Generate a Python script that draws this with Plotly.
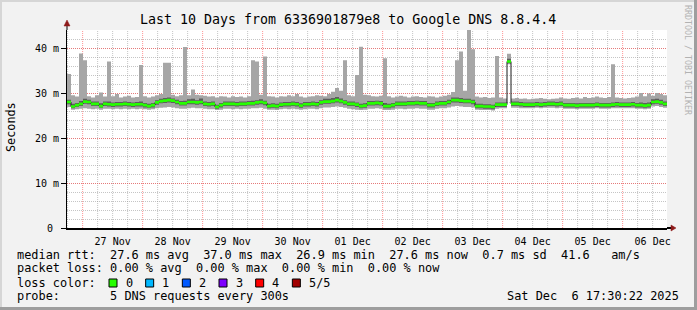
import plotly.graph_objects as go
from datetime import datetime, timedelta

# ---------------- data ----------------
START = datetime(2025, 11, 26, 17, 45)
STEP_MIN = 96  # one consolidated sample every 96 minutes -> 150 samples over 10 days

median_ms = [
    28.0, 27.0, 27.3, 27.6, 28.1, 28.0, 27.6, 27.6, 27.1, 27.6,
    27.5, 27.4, 27.5, 27.5, 27.6, 27.5, 27.4, 27.5, 27.5, 27.3,
    27.1, 27.3, 27.9, 28.2, 28.3, 28.4, 28.3, 28.0, 27.7, 27.7,
    28.0, 28.0, 27.9, 28.0, 27.6, 27.5, 27.6, 26.9, 27.3, 27.6,
    27.6, 27.6, 27.5, 27.6, 27.6, 27.7, 27.7, 27.9, 28.0, 27.8,
    27.1, 27.2, 27.1, 27.4, 27.5, 27.5, 27.6, 27.5, 27.2, 27.5,
    27.5, 27.6, 27.5, 27.9, 28.1, 28.1, 28.2, 28.4, 28.2, 27.9,
    27.6, 27.6, 27.4, 27.1, 27.2, 27.7, 27.7, 27.8, 27.7, 27.1,
    27.1, 27.3, 27.6, 27.6, 27.6, 27.7, 27.7, 27.8, 27.7, 27.7,
    27.3, 27.3, 27.6, 27.7, 27.7, 28.0, 28.4, 28.4, 28.3, 28.2,
    28.2, 28.0, 27.1, 27.1, 27.0, 27.0, 26.9, 27.4, 27.4, 27.4,
    37.0, 27.6, 27.6, 27.5, 27.4, 27.4, 27.4, 27.5, 27.4, 27.5,
    27.6, 27.6, 27.5, 27.6, 27.3, 27.3, 27.3, 27.2, 27.3, 27.3,
    27.3, 27.3, 27.4, 27.3, 27.3, 27.3, 27.4, 27.5, 27.4, 27.4,
    27.4, 27.5, 27.3, 27.3, 27.2, 27.3, 28.0, 28.1, 27.9, 27.6,
]

smoke_hi_ms = [
    34.2, 29.5, 29.2, 38.8, 37.3, 29.3, 29.0, 29.5, 30.1, 29.2,
    37.0, 29.3, 29.8, 29.0, 29.2, 29.4, 29.0, 29.1, 36.2, 29.3,
    29.0, 29.2, 29.5, 29.8, 36.7, 36.7, 29.6, 29.3, 29.5, 40.2,
    29.5, 30.8, 29.6, 29.5, 29.4, 29.2, 29.3, 29.0, 29.3, 29.2,
    29.0, 29.3, 29.1, 29.2, 29.0, 29.3, 37.3, 37.0, 29.6, 38.1,
    29.3, 29.2, 29.0, 29.3, 29.2, 29.5, 29.3, 29.8, 29.2, 29.0,
    29.2, 29.3, 29.5, 29.4, 29.3, 29.8, 30.3, 31.1, 30.5, 37.3,
    29.5, 29.3, 34.0, 40.3, 29.6, 29.5, 29.3, 29.2, 29.4, 37.7,
    29.3, 29.0, 29.2, 29.4, 29.2, 29.0, 29.2, 29.3, 29.1, 29.0,
    29.3, 29.2, 29.0, 29.2, 29.4, 29.6, 30.2, 37.3, 39.2, 30.5,
    44.4, 39.7, 29.2, 29.0, 29.1, 28.9, 29.0, 38.2, 29.0, 28.8,
    38.7, 28.8, 28.9, 28.7, 28.8, 28.6, 28.7, 28.8, 28.9, 28.7,
    28.6, 28.7, 28.8, 29.0, 28.8, 28.7, 28.9, 29.0, 28.8, 29.1,
    28.9, 29.0, 29.2, 29.0, 28.9, 29.1, 36.4, 29.0, 28.9, 28.8,
    28.9, 29.0, 29.2, 30.0, 29.3, 29.9, 29.4, 30.0, 29.8, 29.5,
]

smoke_lo_ms = [
    26.9, 26.3, 26.4, 26.5, 26.6, 26.5, 26.4, 26.5, 26.3, 26.5,
    26.5, 26.4, 26.5, 26.4, 26.5, 26.4, 26.5, 26.4, 26.5, 26.4,
    26.3, 26.4, 26.6, 26.7, 26.8, 26.9, 26.8, 26.6, 26.5, 26.5,
    26.6, 26.7, 26.6, 26.6, 26.5, 26.4, 26.4, 26.2, 26.3, 26.5,
    26.5, 26.4, 26.5, 26.4, 26.5, 26.5, 26.6, 26.6, 26.7, 26.5,
    26.3, 26.3, 26.2, 26.4, 26.5, 26.4, 26.5, 26.4, 26.3, 26.4,
    26.5, 26.5, 26.4, 26.6, 26.8, 26.8, 26.9, 27.0, 26.9, 26.7,
    26.5, 26.4, 26.3, 26.2, 26.3, 26.5, 26.5, 26.6, 26.5, 26.2,
    26.2, 26.3, 26.5, 26.5, 26.4, 26.5, 26.5, 26.6, 26.5, 26.5,
    26.3, 26.3, 26.5, 26.6, 26.6, 26.8, 27.0, 27.1, 27.0, 26.9,
    26.9, 26.8, 26.3, 26.2, 26.2, 26.2, 26.1, 26.5, 26.6, 26.6,
    36.4, 26.7, 26.7, 26.6, 26.6, 26.6, 26.6, 26.7, 26.6, 26.7,
    26.7, 26.7, 26.6, 26.7, 26.5, 26.5, 26.5, 26.4, 26.5, 26.5,
    26.5, 26.5, 26.6, 26.5, 26.5, 26.5, 26.6, 26.6, 26.6, 26.6,
    26.6, 26.6, 26.5, 26.5, 26.4, 26.5, 27.0, 27.1, 26.9, 26.7,
]

inner_hi_ms = [
    28.5, 27.6, 27.8, 28.2, 28.7, 28.5, 28.1, 28.1, 27.7, 28.1,
    28.1, 27.9, 28.0, 28.0, 28.1, 28.0, 27.9, 28.0, 28.1, 27.8,
    27.6, 27.8, 28.4, 28.7, 28.9, 29.0, 28.8, 28.5, 28.2, 28.3,
    28.6, 28.7, 28.4, 28.8, 28.1, 28.0, 28.1, 27.4, 27.8, 28.1,
    28.1, 28.1, 28.0, 28.1, 28.1, 28.2, 28.3, 28.4, 28.6, 28.3,
    27.6, 27.7, 27.6, 27.9, 28.0, 28.0, 28.1, 28.0, 27.7, 28.0,
    28.0, 28.1, 28.0, 28.4, 28.7, 28.7, 28.9, 29.1, 28.8, 28.4,
    28.1, 28.1, 27.9, 27.6, 27.7, 28.2, 28.2, 28.3, 28.2, 27.8,
    27.6, 27.8, 28.1, 28.1, 28.1, 28.2, 28.2, 28.3, 28.2, 28.2,
    27.8, 27.8, 28.1, 28.2, 28.2, 28.5, 29.0, 29.0, 28.9, 28.7,
    28.7, 28.5, 27.6, 27.6, 27.5, 27.5, 27.4, 27.9, 27.9, 27.9,
    37.6, 28.1, 28.1, 28.0, 27.9, 27.9, 27.9, 28.0, 27.9, 28.0,
    28.1, 28.1, 28.0, 28.1, 27.8, 27.8, 27.8, 27.7, 27.8, 27.8,
    27.8, 27.8, 27.9, 27.8, 27.8, 27.8, 27.9, 28.0, 27.9, 27.9,
    27.9, 28.0, 27.8, 27.9, 27.8, 27.9, 28.6, 28.7, 28.5, 28.1,
]

inner_lo_ms = [
    27.5, 26.6, 26.9, 27.1, 27.6, 27.5, 27.1, 27.1, 26.7, 27.1,
    27.0, 26.9, 27.0, 27.0, 27.1, 27.0, 26.9, 27.0, 27.0, 26.8,
    26.7, 26.8, 27.4, 27.7, 27.8, 27.9, 27.8, 27.5, 27.2, 27.2,
    27.5, 27.5, 27.4, 27.5, 27.1, 27.0, 27.1, 26.5, 26.8, 27.1,
    27.1, 27.1, 27.0, 27.1, 27.1, 27.2, 27.2, 27.4, 27.5, 27.3,
    26.6, 26.7, 26.6, 26.9, 27.0, 27.0, 27.1, 27.0, 26.7, 27.0,
    27.0, 27.1, 27.0, 27.4, 27.6, 27.6, 27.7, 27.9, 27.7, 27.4,
    27.1, 27.1, 26.9, 26.6, 26.7, 27.2, 27.2, 27.3, 27.2, 26.6,
    26.6, 26.8, 27.1, 27.1, 27.1, 27.2, 27.2, 27.3, 27.2, 27.2,
    26.8, 26.8, 27.1, 27.2, 27.2, 27.5, 27.9, 27.9, 27.8, 27.7,
    27.7, 27.5, 26.6, 26.6, 26.5, 26.5, 26.4, 26.9, 26.9, 26.9,
    36.6, 27.1, 27.1, 27.0, 26.9, 26.9, 26.9, 27.0, 26.9, 27.0,
    27.1, 27.1, 27.0, 27.1, 26.8, 26.8, 26.8, 26.7, 26.8, 26.8,
    26.8, 26.8, 26.9, 26.8, 26.8, 26.8, 26.9, 27.0, 26.9, 26.9,
    26.9, 27.0, 26.8, 26.8, 26.7, 26.8, 27.5, 27.6, 27.4, 27.1,
]

day_labels = ["27 Nov", "28 Nov", "29 Nov", "30 Nov", "01 Dec",
              "02 Dec", "03 Dec", "04 Dec", "05 Dec", "06 Dec"]
first_day = datetime(2025, 11, 27)
y_tick_vals = [0, 10, 20, 30, 40]
y_tick_text = ["0\u00a0", "10 m", "20 m", "30 m", "40 m"]
loss_labels = ["0", "1", "2", "3", "4", "5/5"]
loss_colors = ["#26ff00", "#00b8ff", "#0059ff", "#7e00ff", "#ff0000", "#a10000"]

title_text = "Last 10 Days from 6336901879e8 to Google DNS 8.8.4.4"
legend_rows = [
    "median rtt:  27.6 ms avg  37.0 ms max  26.9 ms min  27.6 ms now  0.7 ms sd  41.6   am/s",
    "packet loss: 0.00 % avg  0.00 % max  0.00 % min  0.00 % now",
    "loss color:",
    "probe:       5 DNS requests every 300s",
]
stamp_text = "Sat Dec  6 17:30:22 2025"

# ---------------- geometry ----------------
W, H = 697, 310
PL, PR, PT, PB = 67, 667, 30, 228      # plot area in pixels
Y_MAX = 44.0
MONO = "DejaVu Sans Mono"
LINE_W = 0.3  # half thickness of the median line (ms)


def px(x):
    return (x - PL) / (PR - PL)


def py(y):
    return (PB - y) / (PB - PT)


n = len(median_ms)
times = [START + timedelta(minutes=STEP_MIN * i) for i in range(n + 1)]
END = times[-1]


def ext(s):
    return list(s) + [s[-1]]


fig = go.Figure()

common = dict(x=times, mode="lines", line_shape="hv", hoverinfo="skip", showlegend=False)

fig.add_trace(go.Scatter(y=ext(smoke_lo_ms), line=dict(width=0, color="rgba(0,0,0,0)"), **common))
fig.add_trace(go.Scatter(y=ext(smoke_hi_ms), line=dict(width=0, color="rgba(0,0,0,0)"),
                         fill="tonexty", fillcolor="#a6a6a6", **common))
fig.add_trace(go.Scatter(y=ext(inner_lo_ms), line=dict(width=0, color="rgba(0,0,0,0)"), **common))
fig.add_trace(go.Scatter(y=ext(inner_hi_ms), line=dict(width=0, color="rgba(0,0,0,0)"),
                         fill="tonexty", fillcolor="#5e5e5e", **common))
fig.add_trace(go.Scatter(y=ext(median_ms), line=dict(width=1, color="#1a1a1a"), **common))
fig.add_trace(go.Scatter(y=ext([m - LINE_W for m in median_ms]),
                         line=dict(width=0, color="rgba(0,0,0,0)"), **common))
fig.add_trace(go.Scatter(y=ext([m + LINE_W for m in median_ms]),
                         line=dict(width=0, color="rgba(0,0,0,0)"),
                         fill="tonexty", fillcolor=loss_colors[0], **common))

shapes = []
GRAY_GRID = "rgba(150,150,150,0.55)"
RED_GRID = "rgba(255,60,60,0.55)"
DOT = "1px,1px"

# vertical grid: every 6 hours gray, midnight red
t = datetime(START.year, START.month, START.day) + timedelta(hours=6 * ((START.hour // 6) + 1))
while t < END:
    is_mid = t.hour == 0
    shapes.append(dict(type="line", xref="x", yref="paper", x0=t, x1=t, y0=-2 / 198, y1=1,
                       line=dict(color=RED_GRID if is_mid else GRAY_GRID, width=1, dash=DOT),
                       layer="between"))
    t += timedelta(hours=6)

# axis extensions with arrows
ARROW = "#8e1b1b"
shapes.append(dict(type="line", xref="paper", yref="paper", x0=1, x1=px(672), y0=0, y1=0,
                   line=dict(color="#000000", width=2)))
shapes.append(dict(type="path", xref="paper", yref="paper",
                   path=f"M {px(671)},{py(225)} L {px(676)},{py(228)} L {px(671)},{py(231)} Z",
                   fillcolor=ARROW, line=dict(color=ARROW, width=0.5)))
shapes.append(dict(type="line", xref="paper", yref="paper", x0=0, x1=0, y0=1, y1=py(25),
                   line=dict(color="#000000", width=1)))
shapes.append(dict(type="path", xref="paper", yref="paper",
                   path=f"M {px(64)},{py(26)} L {px(67)},{py(20)} L {px(70)},{py(26)} Z",
                   fillcolor=ARROW, line=dict(color=ARROW, width=0.5)))

# frame of the image (3D look)
def prect(x0, y0, x1, y1, color):
    shapes.append(dict(type="rect", xref="paper", yref="paper",
                       x0=px(x0), x1=px(x1), y0=py(y1), y1=py(y0),
                       fillcolor=color, line=dict(width=0), layer="below"))

prect(0, 0, W, 2, "#d6d6d6")
prect(0, 0, 2, H, "#d6d6d6")
prect(W - 3, 0, W, H, "#9e9e9e")
prect(0, H - 3, W, H, "#9e9e9e")

# legend colour boxes
annotations = []
for k, (lab, col) in enumerate(zip(loss_labels, loss_colors)):
    bx = 109 + 36.67 * k
    shapes.append(dict(type="rect", xref="paper", yref="paper",
                       x0=px(bx), x1=px(bx + 8), y0=py(287), y1=py(279),
                       fillcolor=col, line=dict(color="#000000", width=1)))
    annotations.append(dict(text=lab, x=px(bx + 14.5), y=py(282.5), xref="paper", yref="paper",
                            xanchor="left", yanchor="middle", showarrow=False,
                            font=dict(family=MONO, size=11.9, color="#000000")))


def label(text, x, y, size, anchor="left", color="#000000", angle=0):
    annotations.append(dict(text=text.replace(" ", "\u00a0"), x=px(x), y=py(y),
                            xref="paper", yref="paper", xanchor=anchor, yanchor="middle",
                            showarrow=False, textangle=angle,
                            font=dict(family=MONO, size=size, color=color)))


label(title_text, 347.5, 19.5, 13.3, anchor="center")
label("Seconds", 10.5, 127.5, 11.8, anchor="center", angle=-90)
label("RRDTOOL / TOBI OETIKER", 688, 60, 8.3, anchor="center", color="#b2b2b2", angle=90)
row_y = [254.5, 268.0, 282.5, 296.0]
for txt, yy in zip(legend_rows, row_y):
    label(txt, 14.5, yy, 11.9)
label(stamp_text, 681, row_y[3], 11.9, anchor="right")

noon_ticks = [first_day + timedelta(days=k, hours=12) for k in range(len(day_labels))]

fig.update_layout(
    width=W, height=H,
    margin=dict(l=PL, r=W - PR, t=PT, b=H - PB, pad=0),
    paper_bgcolor="#f2f2f2", plot_bgcolor="#ffffff",
    shapes=shapes, annotations=annotations,
    font=dict(family=MONO, color="#000000"),
    xaxis=dict(type="date", range=[START, END], tickmode="array", tickvals=noon_ticks,
               ticktext=day_labels, showgrid=False, zeroline=False, showline=True,
               linecolor="#000000", linewidth=2, ticks="", tickfont=dict(size=10, family=MONO),
               ticklabelstandoff=3, fixedrange=True),
    yaxis=dict(range=[0, Y_MAX], tickmode="array", tickvals=y_tick_vals, ticktext=y_tick_text,
               showgrid=True, gridcolor=RED_GRID, griddash=DOT, gridwidth=1,
               zeroline=False, showline=True, linecolor="#000000", linewidth=1,
               ticks="outside", ticklen=5, tickcolor="#000000", tickwidth=1,
               tickfont=dict(size=10, family=MONO),
               minor=dict(dtick=2, tick0=0, showgrid=True, gridcolor=GRAY_GRID,
                          griddash=DOT, gridwidth=1, ticks=""),
               fixedrange=True),
)

fig.write_html("out.html")
